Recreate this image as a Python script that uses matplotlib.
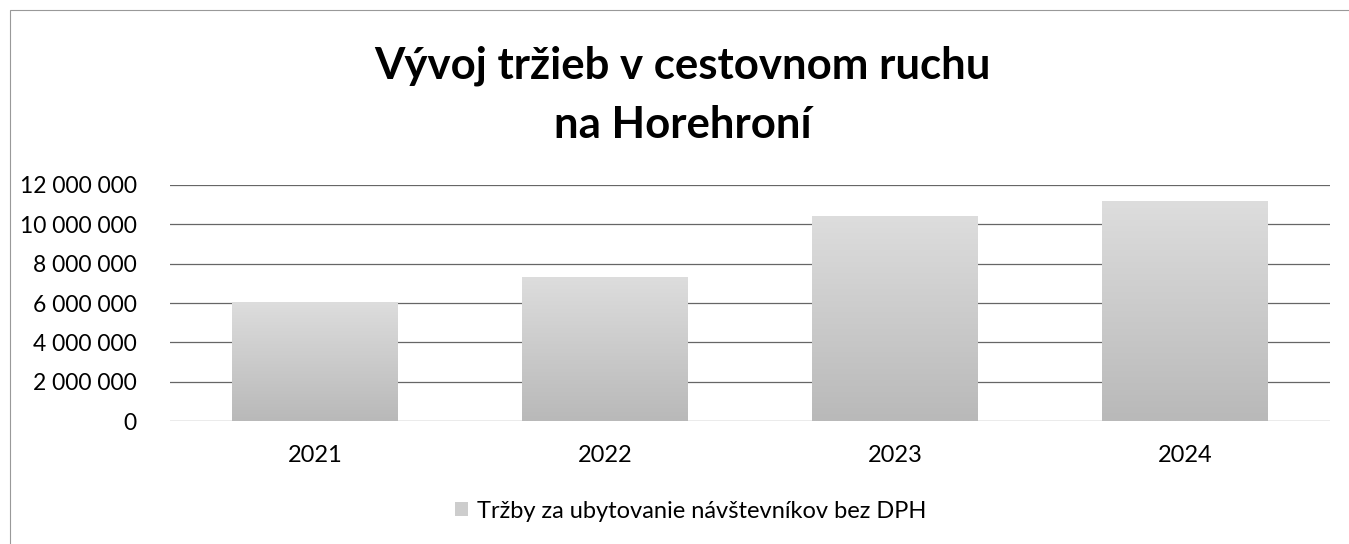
import matplotlib
matplotlib.use("Agg")
import matplotlib.pyplot as plt
import numpy as np
from matplotlib.patches import Rectangle
from matplotlib.colors import LinearSegmentedColormap

plt.rcParams['font.family'] = ['Lato', 'DejaVu Sans']

years = ['2021', '2022', '2023', '2024']
trzby = [6050000, 7330000, 10430000, 11200000]
yticks = [0, 2000000, 4000000, 6000000, 8000000, 10000000, 12000000]
nazov = 'Vývoj tržieb v cestovnom ruchu\nna Horehroní'
legenda = 'Tržby za ubytovanie návštevníkov bez DPH'

fig = plt.figure(figsize=(13.49, 5.44), dpi=100)
ax = fig.add_axes([0.126, 0.226, 0.86, 0.434])

# thin frame around the chart (scan edge)
fig.patches.append(Rectangle((10 / 1349, -0.01), 1.1, 1 - 10 / 544 + 0.01,
                             transform=fig.transFigure, fill=False,
                             edgecolor='#999999', linewidth=0.8))

x = np.arange(len(years))
bars = ax.bar(x, trzby, width=0.57, color='#cdcdcd', label=legenda, zorder=2)

# grey gradient inside each bar
seda = LinearSegmentedColormap.from_list('seda', ['#b9b9b9', '#dddddd'])
grad = np.linspace(0, 1, 100).reshape(-1, 1)
for b in bars:
    x0, y0 = b.get_x(), b.get_y()
    w, h = b.get_width(), b.get_height()
    im = ax.imshow(grad, extent=[x0, x0 + w, y0, y0 + h], origin='lower',
                   cmap=seda, aspect='auto', zorder=3)
    im.set_clip_path(b)

ax.set_xlim(-0.5, 3.5)
ax.set_ylim(0, 12000000)
ax.set_yticks(yticks)
ax.set_yticklabels([f'{v:,}'.replace(',', ' ') for v in yticks])
ax.set_xticks(x)
ax.set_xticklabels(years)
ax.tick_params(axis='y', length=0, pad=24, labelsize=16.5)
ax.tick_params(axis='x', length=0, pad=17, labelsize=17)
ax.grid(axis='y', color='#666666', linewidth=0.9, zorder=1)
for s in ax.spines.values():
    s.set_visible(False)

fig.text(0.506, 0.825, nazov, ha='center', va='center', fontsize=31.5,
         fontweight='bold', linespacing=1.6)

leg = ax.legend(loc='center', bbox_to_anchor=(0.512, 1 - 511 / 544), bbox_transform=fig.transFigure,
                frameon=False, fontsize=17, handlelength=0.55, handleheight=0.55,
                handletextpad=0.4)

fig.savefig('out.png', dpi=100)
